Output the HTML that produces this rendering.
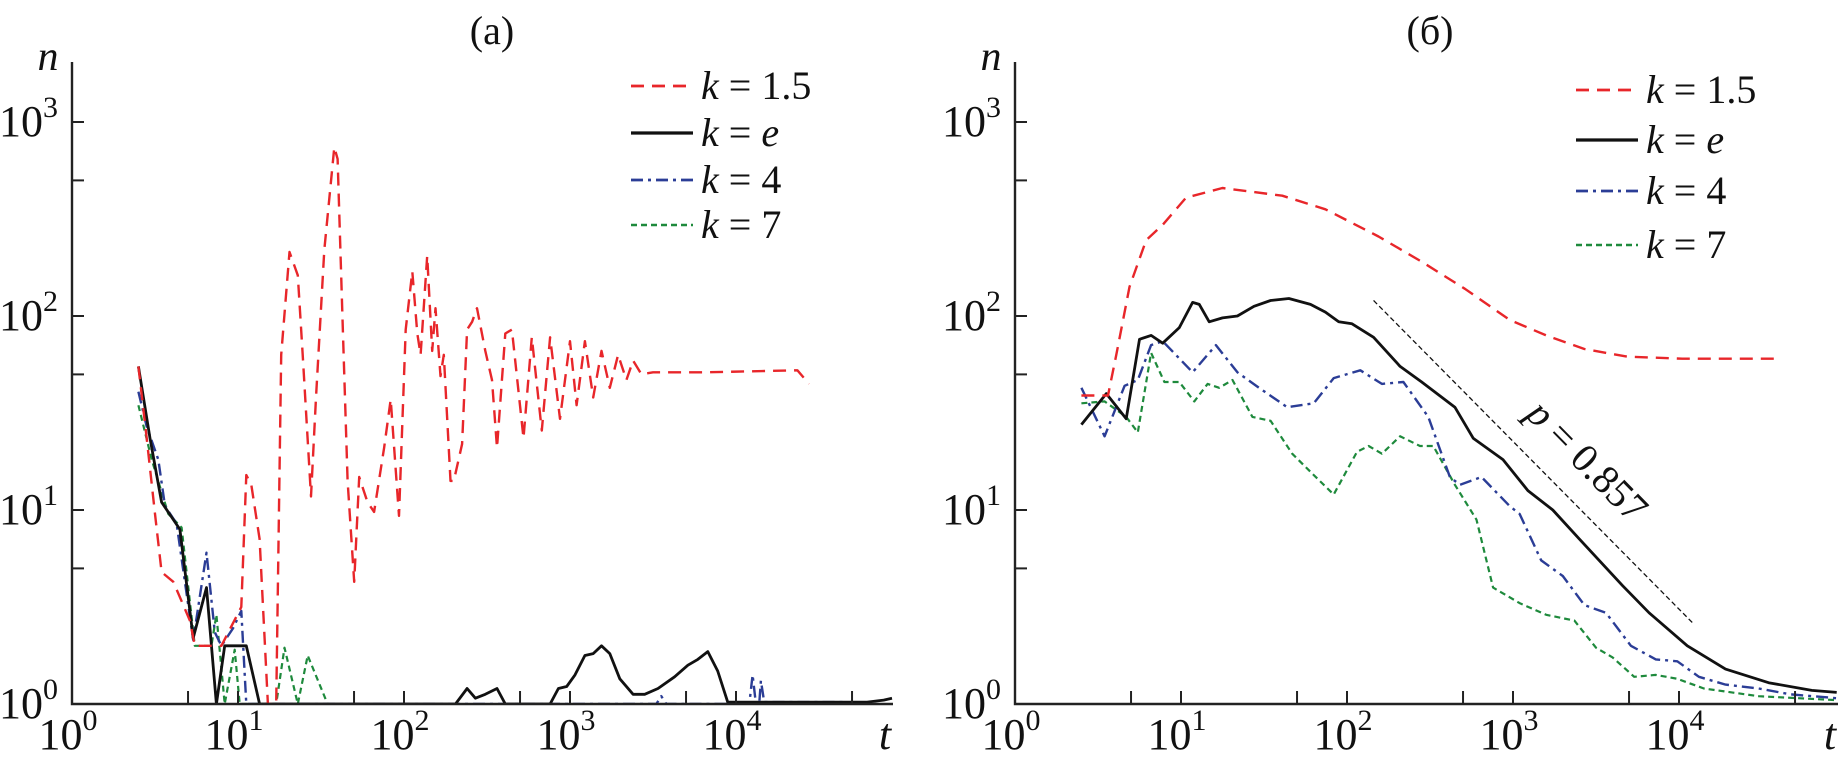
<!DOCTYPE html>
<html><head><meta charset="utf-8"><style>
html,body{margin:0;padding:0;background:#fff;}
svg, svg text{font-family:"Liberation Serif","DejaVu Serif","Times New Roman",serif;}
</style></head><body>
<svg id="chart" width="1845" height="766" viewBox="0 0 1845 766" font-family="Liberation Serif, DejaVu Serif, serif"></svg>
<script>
// ---- Panel (a) data: log10(t), log10(n) ----
const aRedT=[0.40,0.45,0.50,0.54,0.61,0.71,0.74,0.90,1.02,1.05,1.08,1.13,1.18,1.23,1.26,1.31,1.36,1.39,1.44,1.47,1.52,1.58,1.60,1.63,1.66,1.70,1.73,1.78,1.82,1.88,1.92,1.97,2.01,2.05,2.08,2.10,2.14,2.17,2.19,2.22,2.24,2.28,2.30,2.35,2.38,2.41,2.44,2.49,2.53,2.56,2.61,2.65,2.72,2.77,2.83,2.88,2.94,3.00,3.04,3.09,3.14,3.19,3.24,3.29,3.34,3.38,3.43,3.50,3.82,4.37,4.44];
const aRedN=[1.74,1.37,0.98,0.68,0.63,0.43,0.30,0.30,0.50,1.18,1.13,0.85,0,0,1.80,2.33,2.21,1.80,1.07,1.58,2.34,2.87,2.81,1.97,1.15,0.63,1.17,1.04,0.99,1.32,1.57,0.97,1.93,2.23,1.91,1.80,2.31,1.82,2.04,1.69,1.80,1.15,1.15,1.34,1.93,1.97,2.04,1.82,1.67,1.32,1.91,1.93,1.37,1.89,1.41,1.89,1.47,1.87,1.54,1.87,1.58,1.82,1.63,1.80,1.67,1.77,1.70,1.71,1.71,1.72,1.65];
const aBlackT=[0.40,0.47,0.54,0.65,0.73,0.81,0.87,0.92,1.05,1.13,2.31,2.38,2.43,2.49,2.56,2.61,2.88,2.93,2.98,3.03,3.09,3.14,3.19,3.24,3.30,3.38,3.45,3.53,3.63,3.71,3.77,3.83,3.89,3.95,4.15,4.79,4.89,4.94];
const aBlackN=[1.74,1.37,1.04,0.90,0.34,0.60,0,0.30,0.30,0,0,0.08,0.03,0.05,0.08,0,0,0.08,0.09,0.15,0.25,0.26,0.30,0.26,0.13,0.05,0.05,0.08,0.14,0.20,0.23,0.27,0.17,0.01,0.01,0.01,0.02,0.03];
const aBlueT=[0.40,0.45,0.52,0.56,0.63,0.73,0.81,0.86,0.90,0.97,1.02,1.05,3.52,3.55,3.58,4.08,4.10,4.12,4.14,4.15,4.17,4.67];
const aBlueN=[1.61,1.43,1.26,1.02,0.93,0.33,0.78,0.37,0.30,0.39,0.48,0,0,0.04,0,0,0.15,0,0,0.12,0.01,0.01];
const aGreenT=[0.40,0.48,0.58,0.66,0.74,0.84,0.87,0.92,0.98,1.01,1.23,1.28,1.36,1.42,1.54];
const aGreenN=[1.54,1.26,0.98,0.91,0.30,0.30,0.46,0,0.28,0,0,0.29,0,0.25,0];
// ---- Panel (б) data ----
const bRedT=[0.40,0.56,0.61,0.69,0.79,0.89,1.03,1.25,1.61,1.87,2.03,2.19,2.45,2.71,2.98,3.20,3.43,3.69,4.02,4.59];
const bRedN=[1.59,1.59,1.80,2.15,2.39,2.47,2.61,2.66,2.62,2.55,2.48,2.41,2.28,2.14,1.98,1.90,1.83,1.79,1.78,1.78];
const bBlackT=[0.40,0.55,0.67,0.75,0.82,0.89,0.99,1.07,1.11,1.17,1.25,1.34,1.44,1.54,1.65,1.78,1.87,1.95,2.03,2.16,2.32,2.45,2.65,2.76,2.94,3.09,3.24,3.40,3.66,3.82,4.05,4.28,4.54,4.80,4.95];
const bBlackN=[1.44,1.60,1.47,1.88,1.90,1.86,1.94,2.07,2.06,1.97,1.99,2.00,2.05,2.08,2.09,2.06,2.02,1.97,1.96,1.89,1.74,1.66,1.53,1.37,1.26,1.10,1.00,0.85,0.61,0.47,0.30,0.18,0.11,0.07,0.06];
const bBlueT=[0.40,0.54,0.66,0.74,0.82,0.89,1.07,1.21,1.34,1.47,1.64,1.80,1.92,2.08,2.21,2.34,2.49,2.62,2.68,2.81,2.98,3.04,3.17,3.30,3.43,3.56,3.71,3.86,3.99,4.12,4.28,4.48,4.67,4.95];
const bBlueN=[1.63,1.38,1.64,1.67,1.85,1.87,1.71,1.85,1.71,1.63,1.53,1.55,1.68,1.72,1.65,1.66,1.48,1.17,1.13,1.17,1.02,0.98,0.74,0.66,0.51,0.47,0.30,0.23,0.22,0.14,0.10,0.08,0.05,0.03];
const bGreenT=[0.40,0.54,0.67,0.74,0.82,0.90,0.99,1.08,1.16,1.23,1.31,1.43,1.54,1.67,1.80,1.92,2.06,2.13,2.21,2.32,2.44,2.52,2.65,2.78,2.88,3.04,3.20,3.37,3.50,3.60,3.73,3.86,3.99,4.15,4.48,4.95];
const bGreenN=[1.55,1.56,1.48,1.40,1.81,1.66,1.66,1.56,1.65,1.63,1.67,1.48,1.46,1.29,1.18,1.08,1.30,1.33,1.29,1.38,1.33,1.33,1.13,0.95,0.60,0.52,0.46,0.43,0.29,0.24,0.14,0.15,0.13,0.08,0.04,0.02];
const fitT=[2.16,4.08];
const fitN=[2.08,0.42];
const xTickDecades=[0,1,2,3,4];
const yTickDecades=[0,1,2,3];
const legendLabels=["1.5","e","4","7"];

const NS="http://www.w3.org/2000/svg";
const FONT='"Liberation Serif","DejaVu Serif",serif';
const svg=document.getElementById('chart');
function mk(tag,attrs,parent){const e=document.createElementNS(NS,tag);for(const k in attrs)e.setAttribute(k,attrs[k]);if(tag==='text')e.style.fontFamily=FONT;(parent||svg).appendChild(e);return e;}

const styles={
 red:{stroke:"#e8262a",dash:"13 8",w:2.4},
 black:{stroke:"#111",dash:"",w:2.8},
 blue:{stroke:"#2b3d96",dash:"12 5 3 5",w:2.4},
 green:{stroke:"#1e8a3c",dash:"6 4",w:2.2}
};

function panel(cfg){
 const g=mk('g',{});
 
 
 const x0=cfg.x0, D=166, yb=704, DY=194, xEnd=cfg.xEnd, yTop=62;
 const X=v=>x0+v*D, Y=v=>yb-v*DY;
 const clipId=cfg.name+'-clip';
 const cp=mk('clipPath',{id:clipId},g);
 mk('rect',{x:x0,y:yTop,width:xEnd-x0,height:yb-yTop},cp);
 const series=[["red",cfg.red],["black",cfg.black],["blue",cfg.blue],["green",cfg.green]];
 const sg=mk('g',{'clip-path':`url(#${clipId})`},g);
 series.slice().reverse().forEach(([c,d])=>{
  const s=styles[c];
  const pts=d[0].map((t,i)=>X(t).toFixed(1)+','+Y(d[1][i]).toFixed(1)).join(' ');
  const pl=mk('polyline',{points:pts,fill:'none',stroke:s.stroke,'stroke-width':s.w,'stroke-dasharray':s.dash,'stroke-linejoin':'round'},sg);
  
  
 });
 if(cfg.fit){
  const f=mk('line',{x1:X(fitT[0]),y1:Y(fitN[0]),x2:X(fitT[1]),y2:Y(fitN[1]),stroke:'#111','stroke-width':1.3,'stroke-dasharray':'5 3'},g);
  
  
  const ft=mk('text',{x:0,y:0,'font-size':40,transform:`translate(1578,470) rotate(45.5)`,'text-anchor':'middle','fill':'#111'},g);
  ft.innerHTML='<tspan font-style="italic">p</tspan> = 0.857';
  
  
 }
 const ax=mk('path',{d:`M${x0},${yTop} V${yb} H${xEnd}`,fill:'none',stroke:'#222','stroke-width':2.4},g);
 
 
 for(let d=0; d<5; d++){
  [d, d+0.699].forEach(v=>{ if(v>0 && X(v)<xEnd-2) mk('line',{x1:X(v),y1:yb,x2:X(v),y2:yb-13,stroke:'#222','stroke-width':2},g);});
 }
 xTickDecades.forEach(d=>{
  const t=mk('text',{x:X(d)-4,y:749,'font-size':44,'text-anchor':'middle',fill:'#111'},g);
  t.innerHTML='10<tspan dy="-19" font-size="30">'+d+'</tspan>';
  
  
 });
 for(let d=0; d<4; d++){
  [d, d+0.699].forEach(v=>{ if(v>0) mk('line',{x1:x0,y1:Y(v),x2:x0+12,y2:Y(v),stroke:'#222','stroke-width':2},g);});
 }
 yTickDecades.forEach(d=>{
  const t=mk('text',{x:x0-14,y:Y(d)+14,'font-size':44,'text-anchor':'end',fill:'#111'},g);
  t.innerHTML='10<tspan dy="-19" font-size="30">'+d+'</tspan>';
  
  
 });
 const xl=mk('text',{x:xEnd-8,y:749,'font-size':44,'font-style':'italic',fill:'#111','text-anchor':'middle'},g);
 xl.textContent='t';
 
 
 const yl=mk('text',{x:x0-24,y:70,'font-size':42,'font-style':'italic',fill:'#111','text-anchor':'middle'},g);
 yl.textContent='n';
 
 
 const tt=mk('text',{x:cfg.titleX,y:44,'font-size':40,fill:'#111','text-anchor':'middle'},g);
 tt.textContent=cfg.title;
 
 
 const cols=["red","black","blue","green"];
 cols.forEach((c,i)=>{
  const s=styles[c], yy=cfg.legY[i];
  const lg=mk('g',{},g);
  
  
  mk('line',{x1:cfg.legX,y1:yy,x2:cfg.legX+62,y2:yy,stroke:s.stroke,'stroke-width':s.w+0.4,'stroke-dasharray':s.dash},lg);
  const t=mk('text',{x:cfg.legX+70,y:yy+13,'font-size':40,fill:'#111'},lg);
  t.innerHTML='<tspan font-style="italic">k</tspan> = '+(legendLabels[i]==='e'?'<tspan font-style="italic">e</tspan>':legendLabels[i]);
 });
}

panel({name:'panel-a',x0:72,xEnd:893,titleX:492,title:'(a)',
 red:[aRedT,aRedN],black:[aBlackT,aBlackN],blue:[aBlueT,aBlueN],green:[aGreenT,aGreenN],
 legX:631,legY:[86,133,180,225]});
panel({name:'panel-b',x0:1015,xEnd:1838,titleX:1430,title:'(б)',fit:true,
 red:[bRedT,bRedN],black:[bBlackT,bBlackN],blue:[bBlueT,bBlueN],green:[bGreenT,bGreenN],
 legX:1576,legY:[90,140,191,245]});
</script>
</body></html>
